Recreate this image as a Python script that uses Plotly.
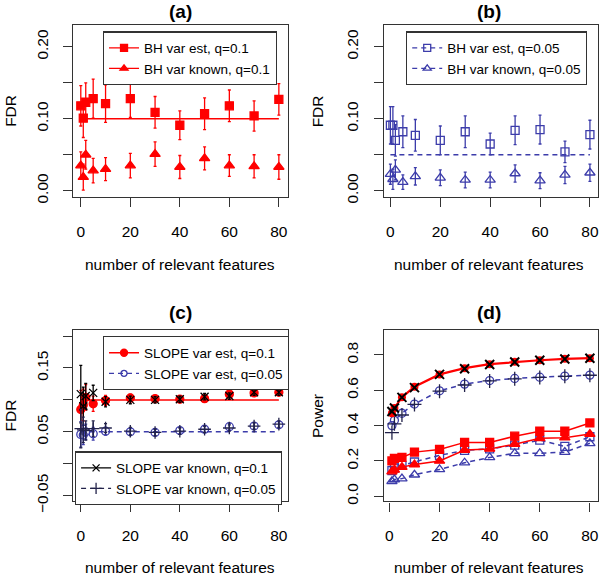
"""Four-panel FDR / power comparison of BH and SLOPE, R base-graphics look."""

import plotly.graph_objects as go

# ---- data -------------------------------------------------------------
K_FDR = [0, 1, 2, 5, 10, 20, 30, 40, 50, 60, 70, 80]
K_POW = [1, 2, 5, 10, 20, 30, 40, 50, 60, 70, 80]
X_LINE = [0, 80]
Q_HIGH = 0.1
Q_LOW = 0.05

# (a) BH, q = 0.1
bh_est_q1 = [0.118, 0.101, 0.123, 0.128, 0.121, 0.128, 0.109, 0.091, 0.107, 0.118, 0.104, 0.127]
bh_est_q1_err = [0.028, 0.027, 0.027, 0.027, 0.026, 0.026, 0.022, 0.020, 0.022, 0.022, 0.021, 0.022]
bh_known_q1 = [0.035, 0.019, 0.050, 0.028, 0.030, 0.035, 0.051, 0.033, 0.045, 0.035, 0.034, 0.033]
bh_known_q1_err = [0.019, 0.018, 0.020, 0.017, 0.016, 0.017, 0.017, 0.016, 0.016, 0.015, 0.016, 0.017]

# (b) BH, q = 0.05
bh_est_q05 = [0.091, 0.091, 0.070, 0.082, 0.077, 0.070, 0.082, 0.065, 0.084, 0.085, 0.054, 0.078]
bh_est_q05_err = [0.026, 0.026, 0.022, 0.022, 0.022, 0.020, 0.022, 0.015, 0.020, 0.020, 0.015, 0.020]
bh_known_q05 = [0.023, 0.016, 0.029, 0.012, 0.020, 0.018, 0.015, 0.015, 0.024, 0.014, 0.022, 0.025]
bh_known_q05_err = [0.014, 0.014, 0.014, 0.010, 0.012, 0.011, 0.011, 0.011, 0.012, 0.011, 0.012, 0.012]

# (c) SLOPE FDR
slope_est_q1 = [0.085, 0.092, 0.104, 0.094, 0.099, 0.103, 0.102, 0.101, 0.102, 0.109, 0.111, 0.112]
slope_est_q1_err = [0.030, 0.025, 0.020, 0.012, 0.008, 0.006, 0.005, 0.005, 0.005, 0.005, 0.005, 0.005]
slope_known_q1 = [0.109, 0.090, 0.106, 0.111, 0.097, 0.100, 0.100, 0.101, 0.105, 0.106, 0.112, 0.112]
slope_known_q1_err = [0.045, 0.030, 0.020, 0.012, 0.008, 0.006, 0.005, 0.005, 0.005, 0.005, 0.005, 0.005]
slope_est_q05 = [0.046, 0.045, 0.050, 0.047, 0.051, 0.050, 0.049, 0.052, 0.054, 0.058, 0.059, 0.061]
slope_est_q05_err = [0.020, 0.015, 0.012, 0.010, 0.006, 0.005, 0.005, 0.005, 0.005, 0.005, 0.005, 0.005]
slope_known_q05 = [0.055, 0.053, 0.052, 0.055, 0.056, 0.051, 0.049, 0.051, 0.054, 0.056, 0.059, 0.062]
slope_known_q05_err = [0.030, 0.020, 0.015, 0.012, 0.007, 0.006, 0.005, 0.005, 0.005, 0.005, 0.005, 0.005]

# (d) power
pow_slope_est_q1 = [0.47, 0.50, 0.56, 0.62, 0.69, 0.725, 0.748, 0.761, 0.770, 0.778, 0.782]
pow_slope_known_q1 = [0.48, 0.50, 0.56, 0.615, 0.69, 0.722, 0.746, 0.760, 0.770, 0.777, 0.781]
pow_slope_est_q05 = [0.40, 0.43, 0.47, 0.522, 0.597, 0.635, 0.655, 0.667, 0.674, 0.680, 0.686]
pow_slope_known_q05 = [0.36, 0.41, 0.46, 0.520, 0.595, 0.630, 0.653, 0.665, 0.673, 0.679, 0.685]
pow_bh_est_q1 = [0.20, 0.215, 0.22, 0.25, 0.265, 0.305, 0.305, 0.34, 0.368, 0.368, 0.415]
pow_bh_known_q1 = [0.14, 0.15, 0.165, 0.18, 0.20, 0.262, 0.268, 0.295, 0.328, 0.332, 0.352]
pow_bh_est_q05 = [0.145, 0.16, 0.175, 0.194, 0.232, 0.26, 0.268, 0.29, 0.318, 0.282, 0.337]
pow_bh_known_q05 = [0.085, 0.095, 0.10, 0.122, 0.152, 0.19, 0.22, 0.243, 0.243, 0.25, 0.30]

X_TICKS = [0, 20, 40, 60, 80]

# ---- style ------------------------------------------------------------
RED = "#ff0000"
BLUE = "#3c3caa"
BLACK = "#000000"
NAVY = "#22224a"
DASH = "5px,4px"
FONT = "Liberation Sans, Arial, sans-serif"

fig = go.Figure()


def err(values, color):
    return dict(type="data", array=values, color=color, thickness=1.3, width=1.5)


def ref_line(xa, ya, y, color, dash="solid"):
    fig.add_trace(go.Scatter(
        x=X_LINE, y=[y, y], mode="lines", xaxis=xa, yaxis=ya,
        line=dict(color=color, width=1.5, dash=dash), showlegend=False, hoverinfo="skip",
    ))


def points(xa, ya, x, y, symbol, color, size, e=None, mode="markers", dash="solid", lw=1.5):
    fig.add_trace(go.Scatter(
        x=x, y=y, mode=mode, xaxis=xa, yaxis=ya, showlegend=False,
        line=dict(color=color, width=lw, dash=dash),
        marker=dict(symbol=symbol, size=size, color=color, line=dict(color=color, width=1.3)),
        error_y=err(e, color) if e is not None else None,
    ))


def key(legend, name, symbol, color, size, dash="solid"):
    # legend-only entry (line + symbol, as in R's legend())
    fig.add_trace(go.Scatter(
        x=[None], y=[None], mode="lines+markers", name=name, legend=legend,
        line=dict(color=color, width=1.3, dash=dash),
        marker=dict(symbol=symbol, size=size, color=color, line=dict(color=color, width=1.3)),
    ))


# (a)
ref_line("x", "y", Q_HIGH, RED)
points("x", "y", K_FDR, bh_est_q1, "square", RED, 8, bh_est_q1_err)
points("x", "y", K_FDR, bh_known_q1, "triangle-up", RED, 9, bh_known_q1_err)
key("legend", "BH var est, q=0.1", "square", RED, 7)
key("legend", "BH var known, q=0.1", "triangle-up", RED, 7)

# (b)
ref_line("x2", "y2", Q_LOW, BLUE, DASH)
points("x2", "y2", K_FDR, bh_est_q05, "square-open", BLUE, 8, bh_est_q05_err)
points("x2", "y2", K_FDR, bh_known_q05, "triangle-up-open", BLUE, 9, bh_known_q05_err)
key("legend2", "BH var est, q=0.05", "square-open", BLUE, 7, DASH)
key("legend2", "BH var known, q=0.05", "triangle-up-open", BLUE, 7, DASH)

# (c)
ref_line("x3", "y3", Q_HIGH, RED)
ref_line("x3", "y3", Q_LOW, BLUE, DASH)
points("x3", "y3", K_FDR, slope_est_q1, "circle", RED, 8, slope_est_q1_err)
points("x3", "y3", K_FDR, slope_known_q1, "x-thin-open", BLACK, 8, slope_known_q1_err)
points("x3", "y3", K_FDR, slope_est_q05, "circle-open", BLUE, 8, slope_est_q05_err)
points("x3", "y3", K_FDR, slope_known_q05, "cross-thin-open", NAVY, 9, slope_known_q05_err)
key("legend3", "SLOPE var est, q=0.1", "circle", RED, 7)
key("legend3", "SLOPE var est, q=0.05", "circle-open", BLUE, 6, DASH)
key("legend4", "SLOPE var known, q=0.1", "x-thin-open", BLACK, 7)
key("legend4", "SLOPE var known, q=0.05", "cross-thin-open", NAVY, 8, DASH)

# (d)
points("x4", "y4", K_POW, pow_bh_est_q05, "square-open", BLUE, 8, mode="lines+markers", dash=DASH)
points("x4", "y4", K_POW, pow_bh_known_q05, "triangle-up-open", BLUE, 9, mode="lines+markers", dash=DASH)
points("x4", "y4", K_POW, pow_bh_est_q1, "square", RED, 8, mode="lines+markers")
points("x4", "y4", K_POW, pow_bh_known_q1, "triangle-up", RED, 9, mode="lines+markers")
points("x4", "y4", K_POW, pow_slope_est_q05, "circle-open", BLUE, 8, mode="lines+markers", dash=DASH)
points("x4", "y4", K_POW, pow_slope_known_q05, "cross-thin-open", NAVY, 10)
points("x4", "y4", K_POW, pow_slope_est_q1, "circle", RED, 8, mode="lines+markers", lw=2.2)
fig.data[-1].marker.line.width = 0
points("x4", "y4", K_POW, pow_slope_known_q1, "x-thin-open", BLACK, 9)
fig.data[-1].marker.line.width = 2

# ---- axes -------------------------------------------------------------
W, H = 600, 586
LEFT = (73, 288)
RIGHT = (384.3, 599.4)
TOP = (25, 201)
BOTTOM = (336, 511)


def xdom(px):
    return [px[0] / W, px[1] / W]


def ydom(px):
    return [1 - px[1] / H, 1 - px[0] / H]


axis_common = dict(
    showline=True, mirror=True, linecolor="#333333", linewidth=1.3,
    ticks="outside", ticklen=9, tickwidth=1.2, tickcolor="#333333",
    showgrid=False, zeroline=False, tickfont=dict(size=15.5, color=BLACK),
)

fdr_ticks = [0.0, 0.05, 0.10, 0.15, 0.20]
fdr_text = ["0.00", "", "0.10", "", "0.20"]
c_ticks = [-0.05, 0.0, 0.05, 0.10, 0.15, 0.20]
c_text = ["\u22120.05", "", "0.05", "", "0.15", ""]
p_ticks = [0.0, 0.2, 0.4, 0.6, 0.8]
p_text = ["0.0", "0.2", "0.4", "0.6", "0.8"]

fig.update_layout(
    xaxis=dict(domain=xdom(LEFT), range=[-3.2, 83.5], anchor="y", tickvals=X_TICKS,
               ticklabelstandoff=11, **axis_common),
    yaxis=dict(domain=ydom(TOP), range=[-0.009, 0.231], anchor="x", tickvals=fdr_ticks,
               ticktext=fdr_text, tickangle=-90, ticklabelstandoff=9, **axis_common),
    xaxis2=dict(domain=xdom(RIGHT), range=[-2.7, 83.4], anchor="y2", tickvals=X_TICKS,
                ticklabelstandoff=11, **axis_common),
    yaxis2=dict(domain=ydom(TOP), range=[-0.009, 0.231], anchor="x2", tickvals=fdr_ticks,
                ticktext=fdr_text, tickangle=-90, ticklabelstandoff=9, **axis_common),
    xaxis3=dict(domain=xdom(LEFT), range=[-3.2, 83.5], anchor="y3", tickvals=X_TICKS,
                ticklabelstandoff=11, **axis_common),
    yaxis3=dict(domain=ydom(BOTTOM), range=[-0.059, 0.21], anchor="x3", tickvals=c_ticks,
                ticktext=c_text, tickangle=-90, ticklabelstandoff=9, **axis_common),
    xaxis4=dict(domain=xdom(RIGHT), range=[-2.3, 83.4], anchor="y4", tickvals=X_TICKS,
                ticklabelstandoff=11, **axis_common),
    yaxis4=dict(domain=ydom(BOTTOM), range=[-0.029, 0.943], anchor="x4", tickvals=p_ticks,
                ticktext=p_text, tickangle=-90, ticklabelstandoff=9, **axis_common),
)

legend_common = dict(
    xanchor="left", yanchor="top", bgcolor="white", bordercolor="#333333",
    borderwidth=1.2, font=dict(size=13.5, color=BLACK, family=FONT),
    tracegroupgap=0, itemwidth=30, itemclick=False,
)
fig.update_layout(
    legend=dict(x=103 / W, y=1 - 32 / H, **legend_common),
    legend2=dict(x=406.7 / W, y=1 - 32 / H, **legend_common),
    legend3=dict(x=103 / W, y=1 - 342.7 / H, **legend_common),
    legend4=dict(x=75 / W, y=1 - 460 / H, **legend_common),
)

# ---- titles (R mtext-style) --------------------------------------------
notes = [
    ("(a)", (LEFT[0] + LEFT[1]) / 2, 12, 0, True),
    ("(b)", (RIGHT[0] + RIGHT[1]) / 2 - 2, 12, 0, True),
    ("(c)", (LEFT[0] + LEFT[1]) / 2, 318, 0, True),
    ("(d)", (RIGHT[0] + RIGHT[1]) / 2 - 2, 318, 0, True),
    ("number of relevant features", (LEFT[0] + LEFT[1]) / 2, 270, 0, False),
    ("number of relevant features", (RIGHT[0] + RIGHT[1]) / 2 - 2, 270, 0, False),
    ("number of relevant features", (LEFT[0] + LEFT[1]) / 2, 578, 0, False),
    ("number of relevant features", (RIGHT[0] + RIGHT[1]) / 2 - 2, 578, 0, False),
    ("FDR", 11, (TOP[0] + TOP[1]) / 2, -90, False),
    ("FDR", 318, (TOP[0] + TOP[1]) / 2, -90, False),
    ("FDR", 11, (BOTTOM[0] + BOTTOM[1]) / 2, -90, False),
    ("Power", 318, (BOTTOM[0] + BOTTOM[1]) / 2, -90, False),
]
for text, px, py, angle, bold in notes:
    fig.add_annotation(
        text=f"<b>{text}</b>" if bold else text,
        x=px / W, y=1 - py / H, xref="paper", yref="paper",
        xanchor="center", yanchor="middle", showarrow=False, textangle=angle,
        font=dict(size=19 if bold else 15.5, color=BLACK, family=FONT),
    )

fig.update_layout(
    width=W, height=H, margin=dict(l=0, r=0, t=0, b=0),
    paper_bgcolor="white", plot_bgcolor="white",
    font=dict(family=FONT, size=15, color=BLACK),
)

# the page's default body margin would push the figure off the 600px window
fig.write_html(
    "out.html",
    config={"displayModeBar": False},
    post_script="document.body.style.margin='0';document.body.style.overflow='hidden';",
)
